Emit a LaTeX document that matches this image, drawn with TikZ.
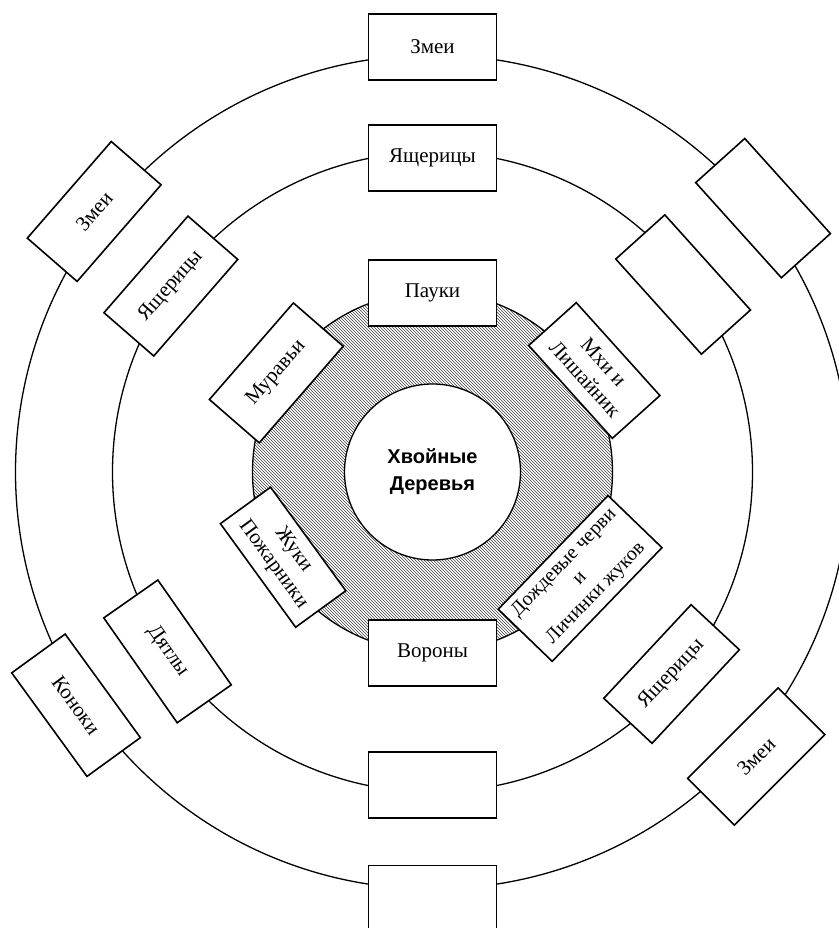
\documentclass[tikz,border=0pt]{standalone}
\usepackage{fontspec}
\setmainfont{Liberation Serif}
\newfontfamily\treefont{Liberation Sans}
\usetikzlibrary{patterns}
\begin{document}
\begin{tikzpicture}[x=1pt, y=1pt,
    ring/.style={line width=1.3pt},
    box/.style={draw, line width=1.6pt, fill=white, minimum width=128, minimum height=66,
      inner sep=2pt, align=center, font=\fontsize{21}{25}\selectfont}]
     \useasboundingbox (-432.5,-456) rectangle (405.5,472);
     % rings
     \draw[ring] (0,0) circle (417);
     \draw[ring] (0,0) circle (320);
     \draw[ring, pattern=north west lines, pattern color=black!75] (0,0) circle (180);
     \node[circle, draw, line width=1.3pt, fill=white, minimum size=176, inner sep=0pt, align=center,
       font=\treefont\bfseries\fontsize{20}{27}\selectfont] (tree) at (0,0) {Хвойные\\Деревья};
     % outer ring
     \node[box] (snakeN) at (90:425) {Змеи};
     \node[box, rotate=49] (snakeNW) at (142.4:427) {Змеи};
     \node[box, rotate=-48] (outerNE) at (38.6:423) {};
     \node[box, rotate=-54] (grass) at (213.2:426) {Коноки};
     \node[box, rotate=45] (snakeSE) at (-41.3:431) {Змеи};
     \node[box] (outerS) at (270:426.5) {};
     % middle ring
     \node[box] (lizN) at (90:314) {Ящерицы};
     \node[box, rotate=49] (lizNW) at (144.6:321) {Ящерицы};
     \node[box, rotate=-48] (midNE) at (36.8:313) {};
     \node[box, rotate=-55] (woodp) at (214.1:320) {Дятлы};
     \node[box, rotate=47] (lizSE) at (-40.2:313) {Ящерицы};
     \node[box] (midS) at (270:313) {};
     % inner ring
     \node[box] (spider) at (90:179) {Пауки};
     \node[box, rotate=49] (ant) at (147.6:185) {Муравьи};
     \node[box, rotate=-48, minimum width=125, minimum height=64] (moss) at (32.1:191) {Мхи и\\Лишайник};
     \node[box, rotate=-54, minimum height=62] (beetle) at (209.7:172) {Жуки\\Пожарники};
     \node[box, rotate=46, minimum width=158, minimum height=75, inner sep=1pt,
       font=\fontsize{20}{22}\selectfont] (worm) at (324.2:182) {Дождевые черви\\и\\Личинки жуков};
     \node[box] (crow) at (270:181) {Вороны};
\end{tikzpicture}
\end{document}
